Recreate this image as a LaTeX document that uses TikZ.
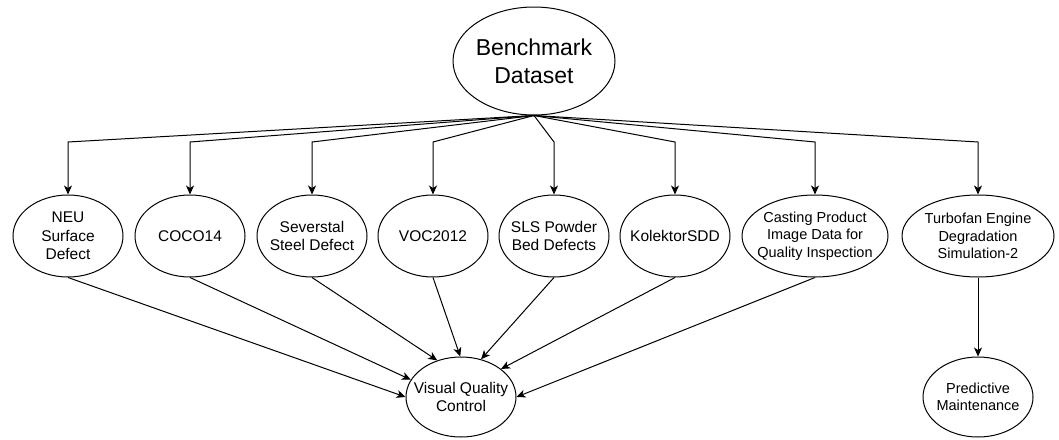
\documentclass[tikz,border=0pt]{standalone}
\usepackage{fontspec}
\setmainfont{Liberation Sans}
\usetikzlibrary{shapes.geometric,arrows.meta}
\begin{document}
\begin{tikzpicture}[x=1pt,y=-1pt,
  ell/.style={draw=black,line width=1pt,ellipse,inner sep=-15pt,align=center,
    minimum width=110pt,minimum height=82pt,font=\fontsize{15.5}{18.5}\selectfont},
  conn/.style={draw=black,line width=1pt,-{Stealth[length=9pt,width=8pt,inset=2.5pt]}}]
\fill[white] (0,0) rectangle (1059,439);
\useasboundingbox (0,0) rectangle (1059,439);
\node[ell,minimum width=162pt,minimum height=108pt,font=\fontsize{23}{28}\selectfont] (bd) at (534,61) {Benchmark\\Dataset};
\node[ell] (neu) at (68,236) {NEU\\Surface\\Defect};
\node[ell] (coco) at (190,236) {COCO14};
\node[ell] (sev) at (312,236) {Severstal\\Steel Defect};
\node[ell] (voc) at (433,236) {VOC2012};
\node[ell] (sls) at (554,236) {SLS Powder\\Bed Defects};
\node[ell] (kol) at (675,236) {KolektorSDD};
\node[ell,minimum width=146pt,font=\fontsize{14.5}{17.5}\selectfont] (cast) at (815,236) {Casting Product\\Image Data for\\Quality Inspection};
\node[ell,minimum width=152pt,font=\fontsize{14.5}{17.5}\selectfont] (turbo) at (978,236) {Turbofan Engine\\Degradation\\Simulation-2};
\node[ell,minimum height=80pt] (vqc) at (461,397) {Visual Quality\\Control};
\node[ell,minimum height=80pt,font=\fontsize{14.5}{17.5}\selectfont] (pm) at (978,397) {Predictive\\Maintenance};
\coordinate (bend) at (0,142);
\foreach \n in {neu,coco,sev,voc,sls,kol,cast,turbo}
  \draw[conn] (bd.south) -- (\n.north |- bend) -- (\n.north);
\draw[conn] (neu.south) -- (vqc.west);
\draw[conn] (coco.south) -- (vqc.161);
\draw[conn] (sev.south) -- (vqc.123);
\draw[conn] (voc.south) -- (vqc.91);
\draw[conn] (sls.south) -- (vqc.62);
\draw[conn] (kol.south) -- (vqc.35);
\draw[conn] (cast.south) -- (vqc.east);
\draw[conn] (turbo.south) -- (pm.north);
\end{tikzpicture}
\end{document}
